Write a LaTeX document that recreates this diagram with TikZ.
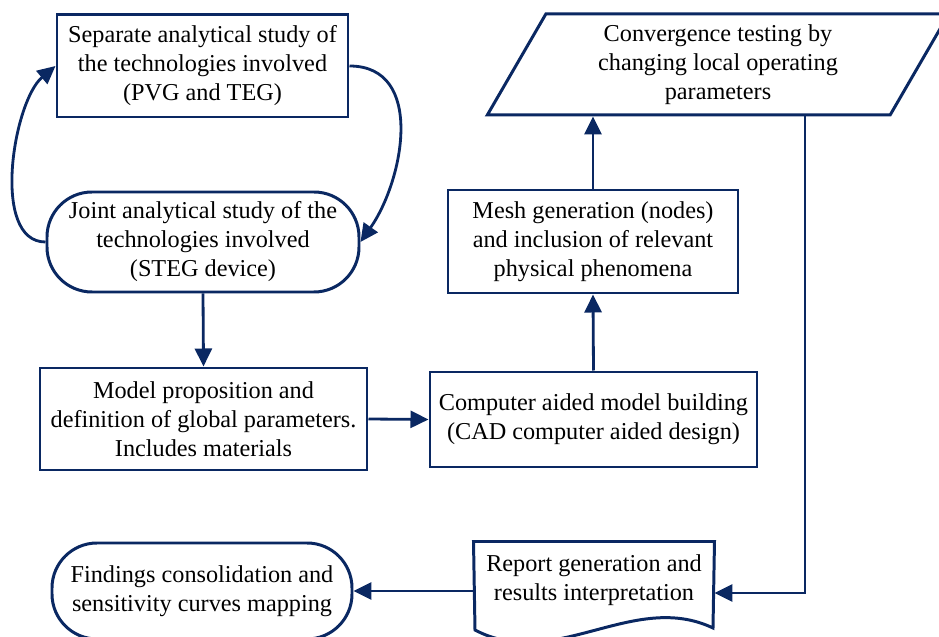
\documentclass[tikz,border=0pt]{standalone}
\usepackage{fontspec}
\setmainfont{Liberation Serif}
\usepackage{tikz}
\usetikzlibrary{arrows.meta,shapes.geometric}
\definecolor{navy}{HTML}{0A2862}
\tikzset{
  every picture/.style={>={Triangle[length=0.36cm,width=0.34cm]}},
  box/.style={draw=navy, line width=1.7pt, align=center, inner sep=0pt, font=\fontsize{13.8}{16.5}\selectfont},
  rbox/.style={box, rounded corners=0.9cm},
  pbox/.style={box, trapezium, trapezium left angle=63, trapezium right angle=117, trapezium stretches=true},
  link/.style={->, draw=navy, line width=1.6pt},
}

\begin{document}
\begin{tikzpicture}
\useasboundingbox (0,0) rectangle (18.78,-12.74);
\clip (0,0) rectangle (18.78,-12.74);
% left column
\node[box, minimum width=5.82cm, minimum height=2.04cm] (sep) at (4.05,-1.32) {Separate analytical study of\\the technologies involved\\(PVG and TEG)};
\node[rbox, minimum width=6.24cm, minimum height=2.0cm] (joint) at (4.06,-4.84) {Joint analytical study of the\\technologies involved\\(STEG device)};
\node[box, minimum width=6.54cm, minimum height=2.04cm] (model) at (4.07,-8.38) {Model proposition and\\definition of global parameters.\\Includes materials};
\node[rbox, minimum width=6.0cm, minimum height=1.92cm] (find) at (4.04,-11.82) {Findings consolidation and\\sensitivity curves mapping};
% right column
\node[box, minimum width=6.54cm, minimum height=1.9cm] (cad) at (11.87,-8.39) {Computer aided model building\\(CAD computer aided design)};
\node[box, minimum width=5.8cm, minimum height=2.06cm] (mesh) at (11.86,-4.83) {Mesh generation (nodes)\\and inclusion of relevant\\physical phenomena};
\node[pbox, minimum width=9.24cm, minimum height=2.02cm] (conv) at (14.36,-1.29) {Convergence testing by\\changing local operating\\parameters};
\node[box, draw=none, minimum width=4.76cm, minimum height=1.48cm] (report) at (11.88,-11.6) {Report generation and\\results interpretation};
\draw[navy, line width=1.7pt] (report.north west) -- (report.north east) -- (14.26,-12.56)
  .. controls (12.66,-11.8) and (11.1,-13.44) .. (9.5,-12.6) -- cycle;
\coordinate (turn) at (16.1,-11.86);
% connectors
\draw[link] (sep.east) to[out=0, in=55, looseness=1.1] (joint.east);
\draw[link] (joint.west) to[out=180, in=220, looseness=0.8] (sep.west);
\draw[link] (joint.south) -- (model.north);
\draw[link] (model.east) -- (cad.west);
\draw[link] (cad.north) -- (mesh.south);
\draw[link] (mesh.north) -- (mesh.north |- conv.south);
\draw[link] (conv.south -| turn) -- (turn) -- (turn -| report.east);
\draw[link] (report.west |- find.east) -- (find.east);
\end{tikzpicture}
\end{document}
